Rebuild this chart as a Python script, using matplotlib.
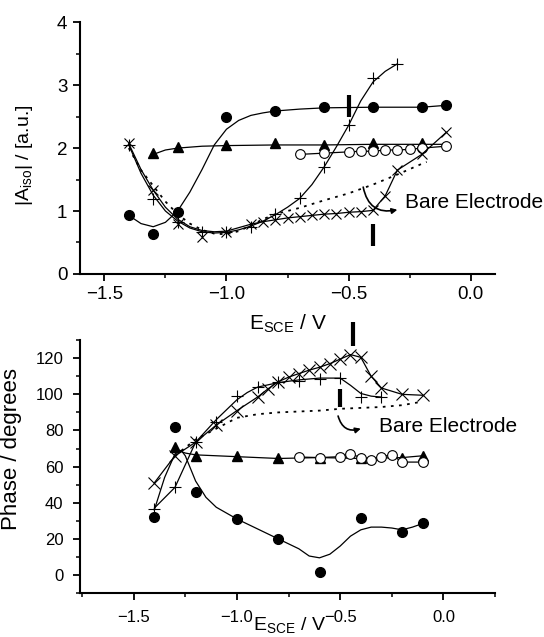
import matplotlib
matplotlib.use('Agg')
from matplotlib import pyplot as plt
from matplotlib.ticker import MultipleLocator

plt.rcParams['font.family'] = ['Liberation Sans', 'DejaVu Sans']
plt.rcParams['mathtext.fontset'] = 'custom'
plt.rcParams['mathtext.rm'] = 'Liberation Sans'
plt.rcParams['mathtext.it'] = 'Liberation Sans:italic'

# ---- top panel: |A_iso| ----
top_circ_x = [-1.4, -1.3, -1.2, -1.0, -0.8, -0.6, -0.4, -0.2, -0.1]
top_circ_y = [0.93, 0.64, 0.99, 2.49, 2.59, 2.65, 2.65, 2.65, 2.68]
top_circ_fit_x = [-1.4, -1.35, -1.3, -1.25, -1.2, -1.15, -1.1, -1.05, -1.0, -0.95, -0.9, -0.85, -0.8, -0.7,
                  -0.6, -0.4, -0.2, -0.1]
top_circ_fit_y = [0.93, 0.8, 0.75, 0.82, 1.0, 1.3, 1.66, 2.05, 2.3, 2.44, 2.52, 2.56, 2.59, 2.62, 2.64, 2.65,
                  2.65, 2.68]

top_tri_x = [-1.3, -1.2, -1.0, -0.8, -0.6, -0.4, -0.2]
top_tri_y = [1.92, 2.02, 2.05, 2.08, 2.05, 2.08, 2.08]
top_tri_fit_x = [-1.3, -1.25, -1.2, -1.1, -1.0, -0.8, -0.6, -0.4, -0.2, -0.1]
top_tri_fit_y = [1.9, 1.97, 2.0, 2.03, 2.04, 2.05, 2.05, 2.06, 2.06, 2.06]

top_open_x = [-0.7, -0.6, -0.5, -0.45, -0.4, -0.35, -0.3, -0.25, -0.2, -0.1]
top_open_y = [1.9, 1.92, 1.94, 1.95, 1.95, 1.97, 1.97, 1.98, 2.0, 2.03]

top_plus_x = [-1.4, -1.3, -1.2, -1.1, -1.0, -0.9, -0.8, -0.7, -0.6, -0.5, -0.4, -0.3]
top_plus_y = [2.05, 1.19, 0.83, 0.67, 0.67, 0.74, 0.96, 1.21, 1.7, 2.36, 3.11, 3.34]
top_plus_fit_x = [-1.4, -1.35, -1.3, -1.25, -1.2, -1.15, -1.1, -1.05, -1.0, -0.95, -0.9, -0.85, -0.8, -0.75,
                  -0.7, -0.65, -0.6, -0.55, -0.5, -0.45, -0.4, -0.35, -0.3]
top_plus_fit_y = [2.05, 1.6, 1.25, 1.0, 0.84, 0.73, 0.67, 0.65, 0.66, 0.7, 0.76, 0.84, 0.94, 1.06, 1.2, 1.42,
                  1.7, 2.02, 2.36, 2.75, 3.05, 3.22, 3.34]

top_x_x = [-1.4, -1.3, -1.2, -1.1, -1.0, -0.9, -0.85, -0.8, -0.75, -0.7, -0.65, -0.6, -0.55, -0.5, -0.45,
           -0.4, -0.35, -0.3, -0.2, -0.1]
top_x_y = [2.08, 1.34, 0.8, 0.58, 0.67, 0.8, 0.83, 0.86, 0.89, 0.91, 0.93, 0.95, 0.96, 0.98, 0.99, 1.01, 1.24,
           1.65, 1.9, 2.25]
top_x_fit_x = [-1.4, -1.35, -1.3, -1.25, -1.2, -1.15, -1.1, -1.05, -1.0, -0.9, -0.85, -0.8, -0.75, -0.7, -0.65,
               -0.6, -0.55, -0.5, -0.45, -0.4, -0.35, -0.3, -0.2, -0.1]
top_x_fit_y = [2.07, 1.66, 1.33, 1.06, 0.87, 0.75, 0.69, 0.67, 0.68, 0.79, 0.83, 0.86, 0.89, 0.91, 0.93, 0.95,
               0.96, 0.98, 0.99, 1.01, 1.24, 1.65, 1.9, 2.25]

top_bare_x = [-1.4, -1.35, -1.3, -1.25, -1.2, -1.15, -1.1, -1.05, -1.0, -0.95, -0.9, -0.85, -0.8, -0.7, -0.6,
              -0.5, -0.4, -0.3, -0.2, -0.18]
top_bare_y = [2.0, 1.65, 1.4, 1.15, 0.95, 0.8, 0.7, 0.64, 0.63, 0.68, 0.77, 0.87, 0.95, 1.05, 1.17, 1.28, 1.42,
              1.58, 1.75, 1.78]

# ---- bottom panel: phase ----
bot_circ_x = [-1.4, -1.3, -1.2, -1.0, -0.8, -0.6, -0.4, -0.2, -0.1]
bot_circ_y = [32, 82, 46, 31, 20, 1.7, 31.5, 24, 28.6]
bot_circ_fit_x = [-1.4, -1.35, -1.3, -1.27, -1.25, -1.2, -1.15, -1.1, -1.0, -0.9, -0.8, -0.7, -0.65, -0.6,
                  -0.55, -0.5, -0.45, -0.4, -0.35, -0.3, -0.25, -0.2, -0.15, -0.1]
bot_circ_fit_y = [36, 54, 67, 69, 66, 52, 43, 37.5, 31, 25.5, 20, 14.5, 10.5, 9.5, 11.5, 16, 21.5, 25, 26.5,
                  26.5, 26, 25, 26.5, 28.5]

bot_tri_x = [-1.3, -1.2, -1.0, -0.8, -0.6, -0.4, -0.2, -0.1]
bot_tri_y = [71, 66, 66, 64.5, 65, 64.5, 65, 66]
bot_tri_fit_x = [-1.3, -1.25, -1.2, -1.1, -1.0, -0.8, -0.6, -0.4, -0.2, -0.1]
bot_tri_fit_y = [69.5, 67.5, 66.5, 66, 65.5, 64.5, 65, 64.5, 65, 66]

bot_open_x = [-0.7, -0.6, -0.5, -0.45, -0.4, -0.35, -0.3, -0.25, -0.2, -0.1]
bot_open_y = [65.3, 65, 65.5, 67, 65, 63.5, 65.5, 66.5, 62.5, 62.5]

bot_plus_x = [-1.4, -1.3, -1.2, -1.1, -1.0, -0.9, -0.8, -0.7, -0.6, -0.5, -0.4, -0.3]
bot_plus_y = [36.5, 48.5, 73.5, 84.5, 99, 104, 107, 107.5, 108.5, 109, 98.5, 98.5]
bot_plus_fit_x = [-1.4, -1.3, -1.2, -1.1, -1.0, -0.95, -0.9, -0.8, -0.7, -0.6, -0.5, -0.45, -0.4, -0.35, -0.3]
bot_plus_fit_y = [37, 48.5, 73.5, 86, 97, 101, 104, 106.5, 108, 109, 109, 105, 100.5, 99, 98.5]

bot_x_x = [-1.4, -1.3, -1.2, -1.1, -1.0, -0.9, -0.85, -0.8, -0.75, -0.7, -0.65, -0.6, -0.55, -0.5, -0.45,
           -0.4, -0.35, -0.3, -0.2, -0.1]
bot_x_y = [51, 66, 73.5, 83, 91, 98.5, 103, 107, 109.5, 111.5, 113.4, 115, 117, 119.5, 122, 120.5, 110, 103.5,
           100, 99.5]

bot_bare_x = [-1.3, -1.2, -1.1, -1.05, -1.0, -0.9, -0.8, -0.7, -0.6, -0.5, -0.4, -0.3, -0.2, -0.1]
bot_bare_y = [66, 75, 81, 84, 87, 89, 90, 90.5, 91, 92, 92.5, 93, 94, 96]

ms = 7
fig = plt.figure(figsize=(5.44, 6.37), dpi=100)
ax1 = fig.add_axes([0.147, 0.570, 0.763, 0.395])
ax2 = fig.add_axes([0.147, 0.069, 0.763, 0.397])


def style_axes(ax, fs):
    for side in ['top', 'right']:
        ax.spines[side].set_visible(False)
    for side in ['left', 'bottom']:
        ax.spines[side].set_linewidth(1.5)
    ax.tick_params(which='major', direction='out', length=5, width=1.3, labelsize=fs, pad=4)
    ax.tick_params(which='minor', direction='out', length=3, width=1.1)


# top
ax1.plot(top_bare_x, top_bare_y, ls=(0, (1.5, 3)), color='k', lw=1.3)
ax1.plot(top_circ_fit_x, top_circ_fit_y, '-', color='k', lw=0.9)
ax1.plot(top_circ_x, top_circ_y, 'o', color='k', ms=ms)
ax1.plot(top_tri_fit_x, top_tri_fit_y, '-', color='k', lw=0.9)
ax1.plot(top_tri_x, top_tri_y, '^', color='k', ms=ms)
ax1.plot(top_open_x, top_open_y, '-o', color='k', mfc='white', ms=ms, lw=0.9, mew=0.8)
ax1.plot(top_plus_fit_x, top_plus_fit_y, '-', color='k', lw=0.9)
ax1.plot(top_plus_x, top_plus_y, '+', color='k', ms=8, mew=0.8)
ax1.plot(top_x_fit_x, top_x_fit_y, '-', color='k', lw=0.9)
ax1.plot(top_x_x, top_x_y, 'x', color='k', ms=7, mew=0.8)

ax1.plot([-0.5, -0.5], [2.5, 2.85], color='k', lw=3, solid_capstyle='butt')
ax1.plot([-0.4, -0.4], [0.45, 0.8], color='k', lw=3, solid_capstyle='butt')
ax1.annotate('', xy=(-0.30, 1.02), xytext=(-0.44, 1.38),
             arrowprops=dict(arrowstyle='-|>', connectionstyle='arc3,rad=0.5', color='k', lw=1.2,
                             mutation_scale=8, shrinkA=0, shrinkB=0))
ax1.text(-0.27, 1.14, 'Bare Electrode', fontsize=15, va='center', ha='left')

ax1.set_xlim(-1.6, 0.1)
ax1.set_ylim(0, 4)
ax1.xaxis.set_major_locator(MultipleLocator(0.5))
ax1.xaxis.set_minor_locator(MultipleLocator(0.25))
ax1.yaxis.set_major_locator(MultipleLocator(1))
ax1.yaxis.set_minor_locator(MultipleLocator(0.5))
style_axes(ax1, 13.5)
ax1.set_ylabel(r'|A$_{\mathrm{iso}}$| / [a.u.]', fontsize=14)
ax1.yaxis.set_label_coords(-0.108, 0.47)
ax1.set_xlabel(r'E$_{\mathrm{SCE}}$ / V', fontsize=15, va='center')
ax1.xaxis.set_label_coords(0.5, -0.2)

# bottom
ax2.plot(bot_bare_x, bot_bare_y, ls=(0, (1.5, 3)), color='k', lw=1.3)
ax2.plot(bot_circ_fit_x, bot_circ_fit_y, '-', color='k', lw=0.9)
ax2.plot(bot_circ_x, bot_circ_y, 'o', color='k', ms=ms)
ax2.plot(bot_tri_fit_x, bot_tri_fit_y, '-', color='k', lw=0.9)
ax2.plot(bot_tri_x, bot_tri_y, '^', color='k', ms=ms)
ax2.plot(bot_open_x, bot_open_y, '-o', color='k', mfc='white', ms=ms, lw=0.9, mew=0.8)
ax2.plot(bot_plus_fit_x, bot_plus_fit_y, '-', color='k', lw=0.9)
ax2.plot(bot_plus_x, bot_plus_y, '+', color='k', ms=8, mew=0.8)
ax2.plot(bot_x_x, bot_x_y, '-x', color='k', ms=8, mew=0.8, lw=0.9)

ax2.plot([-0.44, -0.44], [127, 140], color='k', lw=3, solid_capstyle='butt', clip_on=False)
ax2.plot([-0.5, -0.5], [93, 103], color='k', lw=3, solid_capstyle='butt')
ax2.annotate('', xy=(-0.40, 81), xytext=(-0.51, 88),
             arrowprops=dict(arrowstyle='-|>', connectionstyle='arc3,rad=0.5', color='k', lw=1.2,
                             mutation_scale=8, shrinkA=0, shrinkB=0))
ax2.text(-0.31, 82, 'Bare Electrode', fontsize=15, va='center', ha='left')

ax2.set_xlim(-1.76, 0.25)
ax2.set_ylim(-10, 130)
ax2.xaxis.set_major_locator(MultipleLocator(0.5))
ax2.xaxis.set_minor_locator(MultipleLocator(0.25))
ax2.yaxis.set_major_locator(MultipleLocator(20))
ax2.yaxis.set_minor_locator(MultipleLocator(10))
style_axes(ax2, 12)
ax2.tick_params(which='major', pad=7)
ax2.set_ylabel('Phase / degrees', fontsize=16)
ax2.yaxis.set_label_coords(-0.14, 0.57)
ax2.set_xlabel(r'E$_{\mathrm{SCE}}$ / V', fontsize=14, va='center')
ax2.xaxis.set_label_coords(0.505, -0.128)

fig.savefig('out.png', dpi=100)
